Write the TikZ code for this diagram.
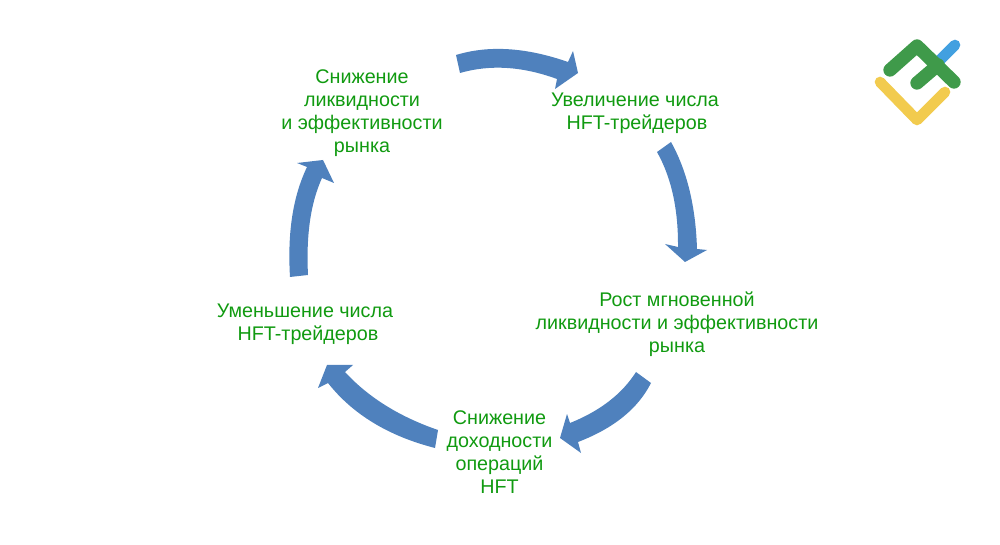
\documentclass[tikz,border=0pt]{standalone}
\usepackage{fontspec}
\setmainfont{Liberation Sans}
\usepackage{tikz}
\definecolor{arrowblue}{HTML}{4F81BD}
\definecolor{labelgreen}{HTML}{109A10}
\definecolor{logogreen}{HTML}{3F9A4A}
\definecolor{logoblue}{HTML}{42A0E0}
\definecolor{logoyellow}{HTML}{F2CB4E}
\begin{document}
\begin{tikzpicture}[x=.75pt,y=-.75pt,
  lbl/.style={text=labelgreen,align=center,font=\fontsize{14.8pt}{17.25pt}\selectfont,inner sep=0pt},
  blockarrow/.style={fill=arrowblue,draw=none},
  logoline/.style={line cap=round,line join=round}]
  \useasboundingbox (0,0) rectangle (1000,545);

  \node[lbl] (fall) at (362,113) {Снижение\\ликвидности\\и эффективности\\рынка};
  \node[lbl] (more) at (635,113) {Увеличение числа\\\hspace{3pt}HFT-трейдеров};
  \node[lbl] (rise) at (677,324) {Рост мгновенной\\ликвидности и эффективности\\рынка};
  \node[lbl] (yield) at (499.5,452.5) {Снижение\\доходности\\операций\\HFT};
  \node[lbl] (less) at (305,324) {Уменьшение числа\\\hspace{4.5pt}HFT-трейдеров};

  \fill[blockarrow] (456,55) .. controls (488.7,45) and (526,47.3) .. (568,62) -- (573,51) -- (578,73) -- (555,89) -- (557,79) .. controls (522.3,66.3) and (490,64.3) .. (460,73) -- cycle;
  \fill[blockarrow] (671,142) .. controls (687,170.7) and (695.7,206.3) .. (697,249) -- (707,250) -- (685,262) -- (665,244) -- (678,247) .. controls (678.3,209) and (671.3,177.3) .. (657,152) -- cycle;
  \fill[blockarrow] (636,372) .. controls (622,394) and (600,411) .. (570,423) -- (567,414) -- (560,438) -- (581,453) -- (578,442) .. controls (613.7,428.3) and (638,408.7) .. (651,383) -- cycle;
  \fill[blockarrow] (438,430) .. controls (399.3,416.7) and (368.3,397.3) .. (345,372) -- (353,365) -- (327,365) -- (318,388) -- (328,383) .. controls (352.7,414.3) and (388.3,436) .. (435,448) -- cycle;
  \fill[blockarrow] (290,277) .. controls (287.3,232.3) and (293,196.3) .. (307,167) -- (297,163) -- (323,160) -- (334,183) -- (322,178) .. controls (310.7,202.7) and (306,235) .. (308,275) -- cycle;

  \coordinate (bluea) at (938,62);
  \coordinate (blueb) at (955,45);
  \coordinate (greena) at (890,70);
  \coordinate (greenb) at (917,46);
  \coordinate (greenc) at (954,82);
  \coordinate (greend) at (917,83);
  \coordinate (greene) at (938,65);
  \coordinate (yela) at (880,82);
  \coordinate (yelb) at (917,120);
  \coordinate (yelc) at (945,92);
  \draw[logoline,line width=8pt,logoblue] (bluea) -- (blueb);
  \draw[logoline,line width=10pt,logogreen] (greena) -- (greenb) -- (greenc);
  \draw[logoline,line width=10pt,logogreen] (greend) -- (greene);
  \draw[logoline,line width=8pt,logoyellow] (yela) -- (yelb) -- (yelc);
\end{tikzpicture}
\end{document}
